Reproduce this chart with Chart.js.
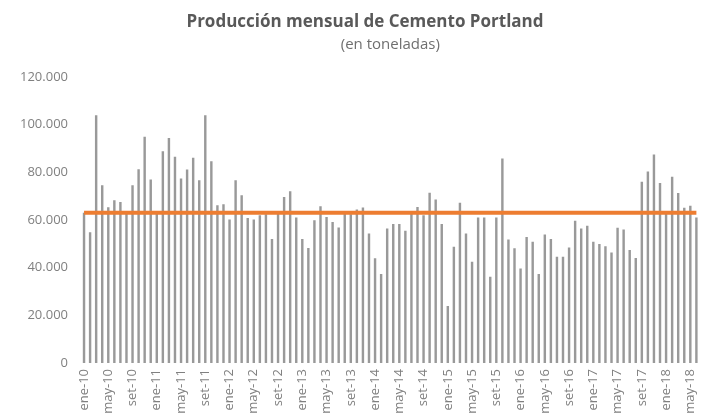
<!DOCTYPE html>
<html>
<head>
  <meta charset="utf-8">
  <title>Producción mensual de Cemento Portland</title>
  <script src="https://cdn.jsdelivr.net/npm/chart.js"></script>
  <style>
    html, body { margin: 0; padding: 0; background: #fff; }
    #wrap { width: 718px; height: 419px; }
  </style>
</head>
<body>
  <div id="wrap">
    <canvas id="cementChart" width="718" height="419"></canvas>
  </div>

  <script>
    const months = ['ene', 'feb', 'mar', 'abr', 'may', 'jun', 'jul', 'ago', 'set', 'oct', 'nov', 'dic'];
    const years = ['10', '11', '12', '13', '14', '15', '16', '17', '18'];

    // ene-10 ... jun-18
    const labels = [];
    years.forEach(y => months.forEach(m => labels.push(m + '-' + y)));
    labels.length = 102;

    // toneladas por mes
    const produccion = [
      63000, 54900, 103900, 74600, 65300, 68300, 67600, 62700, 74600, 81300, 94900, 77000,
      62500, 88800, 94400, 86500, 77400, 81200, 86100, 76700, 103900, 84700, 66200, 66600,
      60200, 76700, 70400, 60800, 60200, 62000, 62400, 52000, 62700, 69700, 72100, 61000,
      52000, 48300, 59900, 65800, 61300, 59200, 56900, 62700, 62400, 64400, 65200, 54300,
      43900, 37300, 56400, 58300, 58300, 55500, 63000, 65500, 62000, 71400, 68600, 58300,
      23900, 48800, 67200, 54300, 42500, 61000, 61000, 36200, 61000, 85800, 51800, 48100,
      39700, 52900, 50900, 37300, 53900, 52000, 44600, 44600, 48500, 59700, 56400, 57600,
      50900, 49900, 49000, 46400, 56700, 56000, 47400, 44100, 76000, 80400, 87500, 75500,
      62500, 78100, 71300, 65100, 66000, 61000
    ];

    const promedio = 63000;
    const promedioLinea = labels.map(() => promedio);

    const yTicks = [0, 20000, 40000, 60000, 80000, 100000, 120000];

    const miles = v => String(v).replace(/\B(?=(\d{3})+(?!\d))/g, '.');

    const ctx = document.getElementById('cementChart').getContext('2d');

    new Chart(ctx, {
      type: 'bar',
      data: {
        labels: labels,
        datasets: [
          {
            type: 'line',
            label: 'Promedio',
            data: promedioLinea,
            borderColor: '#ed7d31',
            borderWidth: 4,
            pointRadius: 0,
            fill: false,
            order: 0
          },
          {
            label: 'Producción',
            data: produccion,
            backgroundColor: '#999999',
            categoryPercentage: 1,
            barPercentage: 0.4,
            order: 1
          }
        ]
      },
      options: {
        responsive: false,
        animation: false,
        layout: { padding: { left: 14, right: 2, top: 0, bottom: 0 } },
        plugins: {
          legend: { display: false },
          tooltip: { enabled: false },
          title: {
            display: true,
            text: 'Producción mensual de Cemento Portland',
            color: '#595959',
            font: { family: 'Open Sans', size: 17, weight: 'bold' },
            padding: { top: 11.8, bottom: 3.8 }
          },
          subtitle: {
            display: true,
            text: '             (en toneladas)',
            color: '#6f6f6f',
            font: { family: 'Open Sans', size: 15 },
            padding: { top: 0, bottom: 23 }
          }
        },
        scales: {
          x: {
            grid: { display: false, drawTicks: false },
            border: { display: false },
            ticks: {
              autoSkip: false,
              minRotation: 90,
              maxRotation: 90,
              padding: 6,
              color: '#808080',
              font: { family: 'Open Sans', size: 13 },
              callback: function (value, index) {
                return index % 4 === 0 ? labels[index] : '';
              }
            },
            afterFit: scale => { scale.height = 56; }
          },
          y: {
            min: 0,
            max: 120000,
            afterBuildTicks: scale => { scale.ticks = yTicks.map(v => ({ value: v })); },
            grid: { display: false, drawTicks: false },
            border: { display: false },
            ticks: {
              padding: 13,
              color: '#808080',
              font: { family: 'Open Sans', size: 13 },
              callback: v => miles(v)
            },
            afterFit: scale => { scale.width = 67; }
          }
        }
      }
    });
  </script>
</body>
</html>
